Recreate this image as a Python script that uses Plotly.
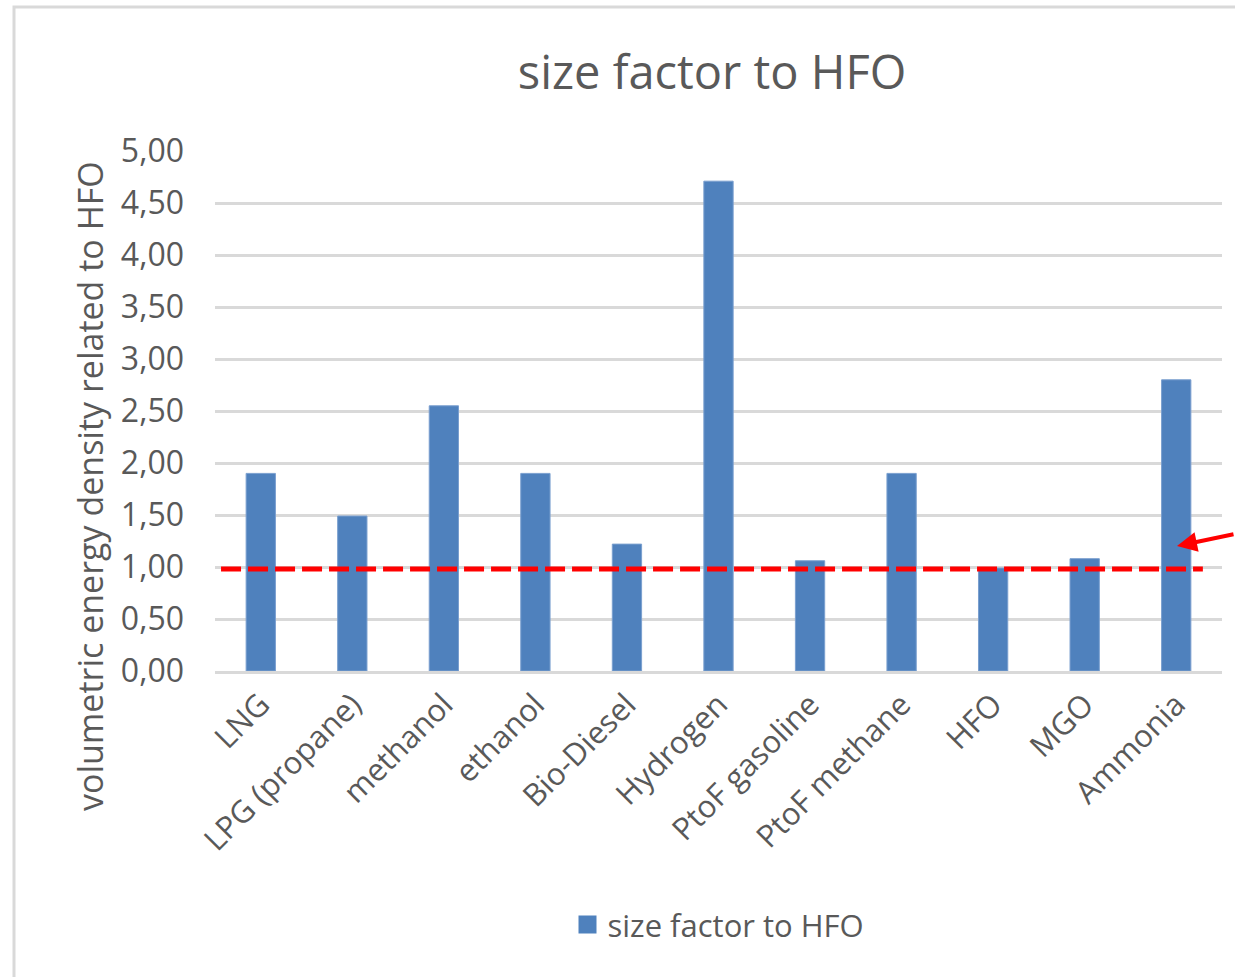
import plotly.graph_objects as go

categories = ["LNG", "LPG (propane)", "methanol", "ethanol", "Bio-Diesel", "Hydrogen",
              "PtoF gasoline", "PtoF methane", "HFO", "MGO", "Ammonia"]
size_factor = [1.90, 1.49, 2.55, 1.90, 1.22, 4.71, 1.06, 1.90, 0.99, 1.08, 2.80]
reference_value = 0.98
series_name = "size factor to HFO"
chart_title = "size factor to HFO"
y_title = "volumetric energy density related to HFO"

FONT = "Open Sans"
GRAY = "#595959"
BAR = "#4F81BD"

fig = go.Figure()
fig.add_trace(go.Bar(
    x=categories, y=size_factor, name=series_name,
    marker=dict(color=BAR, line=dict(color="#7A9FCF", width=1)),
    showlegend=False,
))
# legend entry (square swatch)
fig.add_trace(go.Scatter(
    x=[None], y=[None], mode="markers", name=series_name,
    marker=dict(symbol="square", size=16, color=BAR, line=dict(color=BAR, width=2)),
    showlegend=True,
))

fig.update_layout(
    width=1235, height=977,
    margin=dict(l=215, r=13, t=151, b=306),
    paper_bgcolor="white", plot_bgcolor="white",
    separators=",.",
    bargap=0.68,
    font=dict(family=FONT, color=GRAY, size=31),
    title=dict(text=chart_title, x=712/1235, xref="container", xanchor="center",
               y=1-73/977, yref="container", yanchor="middle",
               font=dict(family=FONT, size=47, color=GRAY)),
    showlegend=True,
    legend=dict(orientation="h", x=0.5, xanchor="center", y=-0.488, yanchor="middle",
                font=dict(family=FONT, size=31, color=GRAY), itemwidth=30),
    xaxis=dict(showline=True, linecolor="#d9d9d9", linewidth=3, tickangle=-45,
               tickfont=dict(family=FONT, size=31, color=GRAY), showgrid=False),
    yaxis=dict(range=[0, 5], dtick=0.5, tickformat=".2f", showgrid=True,
               gridcolor="#d9d9d9", gridwidth=3, zeroline=False,
               ticklabelstandoff=30,
               tickfont=dict(family=FONT, size=32, color=GRAY)),
)

# reference line at HFO level
fig.add_shape(type="line", xref="paper", yref="y", x0=0.006, x1=0.981,
              y0=reference_value, y1=reference_value,
              line=dict(color="#FF0000", width=5, dash="20px,7px"))

# outer chart border
fig.add_shape(type="rect", xref="paper", yref="paper",
              x0=(14-215)/1007, x1=1.2, y0=-0.8, y1=(671-7)/520,
              line=dict(color="#d9d9d9", width=3), fillcolor="rgba(0,0,0,0)", layer="below")

# y axis title
fig.add_annotation(text=y_title, xref="paper", yref="paper",
                   x=(90-215)/1007, y=(671-486)/520, textangle=-90,
                   showarrow=False, font=dict(family=FONT, size=34, color=GRAY),
                   xanchor="center", yanchor="middle")

# red arrow
fig.add_annotation(text="", xref="paper", yref="y",
                   x=(1177-215)/1007, y=(671-546)/104,
                   ax=70, ay=-12, showarrow=True, arrowcolor="#FF0000",
                   arrowwidth=4, arrowhead=2, arrowsize=1.0)

fig.write_html("out.html")
